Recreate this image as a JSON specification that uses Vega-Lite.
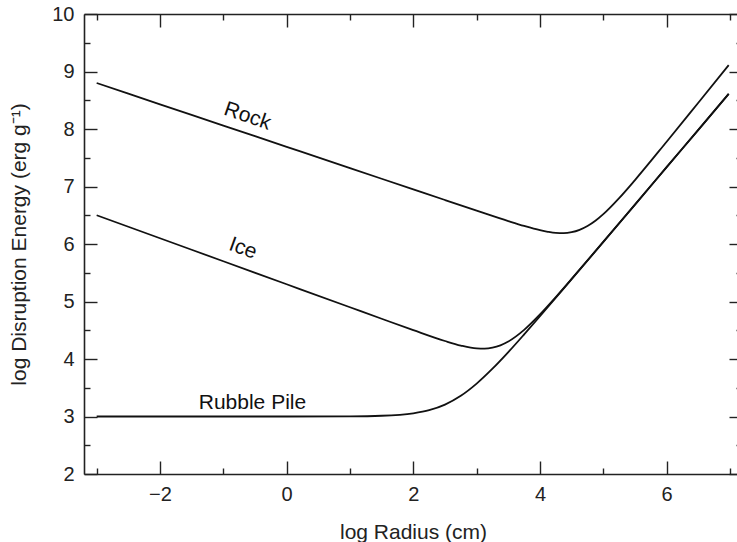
{
  "$schema": "https://vega.github.io/schema/vega-lite/v6.json",
  "width": 658,
  "height": 460,
  "autosize": "none",
  "padding": {"left": 84, "top": 14, "right": 0, "bottom": 68},
  "background": "white",
  "config": {
    "view": {"stroke": null},
    "font": "Liberation Sans",
    "axis": {
      "grid": false,
      "domainColor": "#222",
      "domainWidth": 1.6,
      "tickColor": "#222",
      "tickWidth": 1.4,
      "labelFont": "Liberation Sans",
      "labelFontSize": 20,
      "labelColor": "#222",
      "titleFont": "Liberation Sans",
      "titleFontSize": 21,
      "titleFontWeight": "normal",
      "titleColor": "#222",
      "labelOverlap": false,
      "labelFlush": false
    }
  },
  "datasets": {
    "curves": [
      {"series": "Rock", "x": -3, "y": 8.8},
      {"series": "Rock", "x": -2, "y": 8.43},
      {"series": "Rock", "x": -1, "y": 8.06},
      {"series": "Rock", "x": 0, "y": 7.69},
      {"series": "Rock", "x": 1, "y": 7.32},
      {"series": "Rock", "x": 2, "y": 6.95},
      {"series": "Rock", "x": 2.5, "y": 6.765},
      {"series": "Rock", "x": 3, "y": 6.581},
      {"series": "Rock", "x": 3.5, "y": 6.399},
      {"series": "Rock", "x": 3.75, "y": 6.314},
      {"series": "Rock", "x": 4, "y": 6.24},
      {"series": "Rock", "x": 4.125, "y": 6.212},
      {"series": "Rock", "x": 4.25, "y": 6.193},
      {"series": "Rock", "x": 4.375, "y": 6.189},
      {"series": "Rock", "x": 4.5, "y": 6.205},
      {"series": "Rock", "x": 4.625, "y": 6.246},
      {"series": "Rock", "x": 4.75, "y": 6.312},
      {"series": "Rock", "x": 4.875, "y": 6.404},
      {"series": "Rock", "x": 5, "y": 6.519},
      {"series": "Rock", "x": 5.25, "y": 6.798},
      {"series": "Rock", "x": 5.5, "y": 7.112},
      {"series": "Rock", "x": 6, "y": 7.779},
      {"series": "Rock", "x": 6.5, "y": 8.457},
      {"series": "Rock", "x": 6.98, "y": 9.11},
      {"series": "Ice", "x": -3, "y": 6.5},
      {"series": "Ice", "x": -2, "y": 6.1},
      {"series": "Ice", "x": -1, "y": 5.7},
      {"series": "Ice", "x": 0, "y": 5.3},
      {"series": "Ice", "x": 1, "y": 4.9},
      {"series": "Ice", "x": 1.5, "y": 4.7},
      {"series": "Ice", "x": 2, "y": 4.502},
      {"series": "Ice", "x": 2.5, "y": 4.313},
      {"series": "Ice", "x": 2.75, "y": 4.234},
      {"series": "Ice", "x": 3, "y": 4.185},
      {"series": "Ice", "x": 3.125, "y": 4.182},
      {"series": "Ice", "x": 3.25, "y": 4.198},
      {"series": "Ice", "x": 3.375, "y": 4.238},
      {"series": "Ice", "x": 3.5, "y": 4.304},
      {"series": "Ice", "x": 3.75, "y": 4.506},
      {"series": "Ice", "x": 4, "y": 4.774},
      {"series": "Ice", "x": 4.25, "y": 5.076},
      {"series": "Ice", "x": 4.5, "y": 5.392},
      {"series": "Ice", "x": 5, "y": 6.037},
      {"series": "Ice", "x": 5.5, "y": 6.686},
      {"series": "Ice", "x": 6, "y": 7.336},
      {"series": "Ice", "x": 6.5, "y": 7.986},
      {"series": "Ice", "x": 6.98, "y": 8.61},
      {"series": "Rubble Pile", "x": -3, "y": 3.0},
      {"series": "Rubble Pile", "x": -2, "y": 3.0},
      {"series": "Rubble Pile", "x": -1, "y": 3.0},
      {"series": "Rubble Pile", "x": 0, "y": 3.0},
      {"series": "Rubble Pile", "x": 1, "y": 3.003},
      {"series": "Rubble Pile", "x": 1.5, "y": 3.013},
      {"series": "Rubble Pile", "x": 2, "y": 3.056},
      {"series": "Rubble Pile", "x": 2.25, "y": 3.11},
      {"series": "Rubble Pile", "x": 2.5, "y": 3.207},
      {"series": "Rubble Pile", "x": 2.75, "y": 3.36},
      {"series": "Rubble Pile", "x": 3, "y": 3.572},
      {"series": "Rubble Pile", "x": 3.25, "y": 3.831},
      {"series": "Rubble Pile", "x": 3.5, "y": 4.12},
      {"series": "Rubble Pile", "x": 3.75, "y": 4.428},
      {"series": "Rubble Pile", "x": 4, "y": 4.744},
      {"series": "Rubble Pile", "x": 4.5, "y": 5.388},
      {"series": "Rubble Pile", "x": 5, "y": 6.036},
      {"series": "Rubble Pile", "x": 5.5, "y": 6.686},
      {"series": "Rubble Pile", "x": 6, "y": 7.336},
      {"series": "Rubble Pile", "x": 6.5, "y": 7.986},
      {"series": "Rubble Pile", "x": 6.98, "y": 8.61}
    ],
    "labels": [
      {"label": "Rock", "x": -0.62, "y": 8.22},
      {"label": "Ice", "x": -0.69, "y": 5.92},
      {"label": "Rubble Pile", "x": -0.54, "y": 3.24}
    ]
  },
  "layer": [
    {
      "data": {"name": "curves"},
      "mark": {"type": "line", "interpolate": "monotone", "color": "#111", "strokeWidth": 1.8},
      "encoding": {
        "x": {
          "field": "x", "type": "quantitative",
          "scale": {"domain": [-3.2, 7.19], "nice": false, "zero": false},
          "axis": {
            "orient": "bottom",
            "title": "log Radius (cm)",
            "values": [-3, -2, -1, 0, 1, 2, 3, 4, 5, 6, 7],
            "tickSize": {"condition": {"test": "datum.value % 2 !== 0", "value": -6}, "value": -13},
            "labelPadding": 23,
            "labelExpr": "datum.value % 2 === 0 ? format(datum.value, 'd') : ''",
            "titlePadding": 10
          }
        },
        "y": {
          "field": "y", "type": "quantitative",
          "scale": {"domain": [2, 10], "nice": false, "zero": false},
          "axis": {
            "orient": "left",
            "title": "log Disruption Energy (erg g⁻¹)",
            "values": [2, 2.5, 3, 3.5, 4, 4.5, 5, 5.5, 6, 6.5, 7, 7.5, 8, 8.5, 9, 9.5, 10],
            "tickSize": {"condition": {"test": "datum.value % 1 !== 0", "value": -6}, "value": -13},
            "labelPadding": 23,
            "labelExpr": "datum.value % 1 === 0 ? format(datum.value, 'd') : ''",
            "titlePadding": 22
          }
        },
        "detail": {"field": "series"}
      }
    },
    {
      "data": {"name": "labels"},
      "transform": [{"filter": "datum.label === 'Rubble Pile'"}],
      "mark": {"type": "text", "fontSize": 21, "font": "Liberation Sans", "color": "#111", "align": "center", "baseline": "middle"},
      "encoding": {
        "x": {
          "field": "x", "type": "quantitative",
          "scale": {"domain": [-3.2, 7.19], "nice": false, "zero": false},
          "axis": {
            "orient": "top",
            "title": null,
            "labels": false,
            "values": [-3, -2, -1, 0, 1, 2, 3, 4, 5, 6, 7],
            "tickSize": {"condition": {"test": "datum.value % 2 !== 0", "value": -6}, "value": -13}
          }
        },
        "y": {
          "field": "y", "type": "quantitative",
          "scale": {"domain": [2, 10], "nice": false, "zero": false},
          "axis": {
            "orient": "right",
            "title": null,
            "labels": false,
            "values": [2, 2.5, 3, 3.5, 4, 4.5, 5, 5.5, 6, 6.5, 7, 7.5, 8, 8.5, 9, 9.5, 10],
            "tickSize": {"condition": {"test": "datum.value % 1 !== 0", "value": -6}, "value": -13}
          }
        },
        "text": {"field": "label"}
      }
    },
    {
      "data": {"name": "labels"},
      "transform": [{"filter": "datum.label === 'Rock'"}],
      "mark": {"type": "text", "fontSize": 21, "font": "Liberation Sans", "color": "#111", "align": "center", "baseline": "middle", "angle": 19},
      "encoding": {
        "x": {"field": "x", "type": "quantitative", "axis": null},
        "y": {"field": "y", "type": "quantitative", "axis": null},
        "text": {"field": "label"}
      }
    },
    {
      "data": {"name": "labels"},
      "transform": [{"filter": "datum.label === 'Ice'"}],
      "mark": {"type": "text", "fontSize": 21, "font": "Liberation Sans", "color": "#111", "align": "center", "baseline": "middle", "angle": 20},
      "encoding": {
        "x": {"field": "x", "type": "quantitative", "axis": null},
        "y": {"field": "y", "type": "quantitative", "axis": null},
        "text": {"field": "label"}
      }
    }
  ],
  "resolve": {"axis": {"x": "independent", "y": "independent"}}
}
